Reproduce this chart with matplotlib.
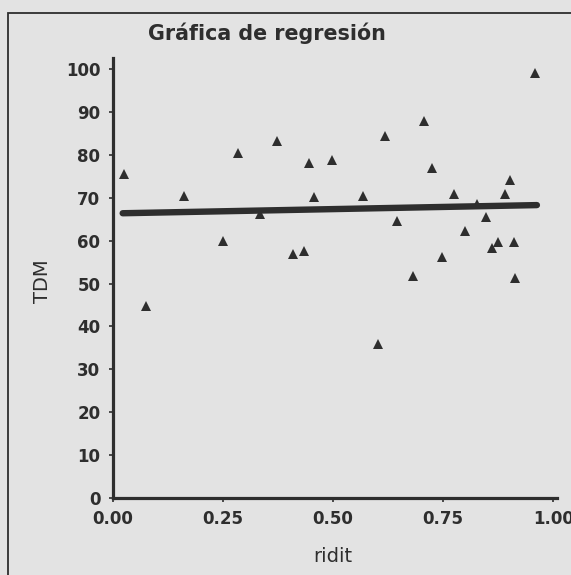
import matplotlib
matplotlib.use("Agg")
import matplotlib.pyplot as plt
from matplotlib.patches import Rectangle

# ---- data ----
ridit = [0.026, 0.074, 0.162, 0.249, 0.285, 0.335, 0.372, 0.410, 0.434, 0.446,
         0.456, 0.497, 0.567, 0.603, 0.617, 0.646, 0.681, 0.707, 0.725, 0.747,
         0.774, 0.799, 0.826, 0.848, 0.862, 0.874, 0.890, 0.902, 0.910, 0.914,
         0.958]
tdm = [75.5, 44.8, 70.5, 60.0, 80.5, 66.2, 83.3, 56.9, 57.6, 78.2,
       70.1, 78.8, 70.5, 35.8, 84.5, 64.6, 51.8, 87.9, 76.9, 56.3,
       70.9, 62.3, 68.5, 65.6, 58.2, 59.6, 70.9, 74.1, 59.6, 51.4,
       99.1]
fit_x = [0.022, 0.963]
fit_y = [66.4, 68.3]

x_ticks = [0.00, 0.25, 0.50, 0.75, 1.00]
x_tick_labels = ["0.00", "0.25", "0.50", "0.75", "1.00"]
y_ticks = [0, 10, 20, 30, 40, 50, 60, 70, 80, 90, 100]
y_tick_labels = [str(v) for v in y_ticks]

title = "Gráfica de regresión"
xlabel = "ridit"
ylabel = "TDM"

# ---- style ----
bg = "#e3e3e3"
ink = "#2e2e2e"
plt.rcParams["font.family"] = ["DejaVu Sans"]

W, H = 571, 575
fig = plt.figure(figsize=(W / 100, H / 100), dpi=100, facecolor=bg)

# outer frame (cut on right and bottom)
fig.patches.append(Rectangle((8 / W, -0.05), 1.2, 1 - 13 / H + 0.05,
                             transform=fig.transFigure, fill=False,
                             edgecolor=ink, linewidth=1.3))

left, right = 113 / W, 556.7 / W
bottom, top = 1 - 498 / H, 1 - 58 / H
ax = fig.add_axes([left, bottom, right - left, top - bottom])
ax.set_facecolor(bg)
ax.set_xlim(0, 1.008)
ax.set_ylim(0, 102.6)

ax.plot(fit_x, fit_y, color=ink, linewidth=4.6, solid_capstyle="round", zorder=2)
ax.plot(ridit, tdm, linestyle="none", marker="^", markersize=7.6,
        color=ink, markeredgewidth=0, zorder=3)

for s in ["top", "right"]:
    ax.spines[s].set_visible(False)
for s in ["left", "bottom"]:
    ax.spines[s].set_color(ink)
    ax.spines[s].set_linewidth(2.3)

ax.set_xticks(x_ticks)
ax.set_xticklabels(x_tick_labels)
ax.set_yticks(y_ticks)
ax.set_yticklabels(y_tick_labels)
ax.tick_params(axis="both", direction="out", length=3, width=1.2, color=ink,
               labelcolor=ink, labelsize=12)
ax.tick_params(axis="x", pad=6)
ax.tick_params(axis="y", pad=6)
for lab in ax.get_xticklabels() + ax.get_yticklabels():
    lab.set_fontweight("bold")

fig.text(267 / W, 1 - 33 / H, title, ha="center", va="center",
         fontsize=14.9, fontweight="bold", color=ink)
fig.text(333 / W, 1 - 557 / H, xlabel, ha="center", va="center",
         fontsize=14, color=ink)
fig.text(42 / W, 1 - 281 / H, ylabel, ha="center", va="center",
         fontsize=14, rotation=90, color=ink)

fig.savefig("out.png", dpi=100, facecolor=bg)
